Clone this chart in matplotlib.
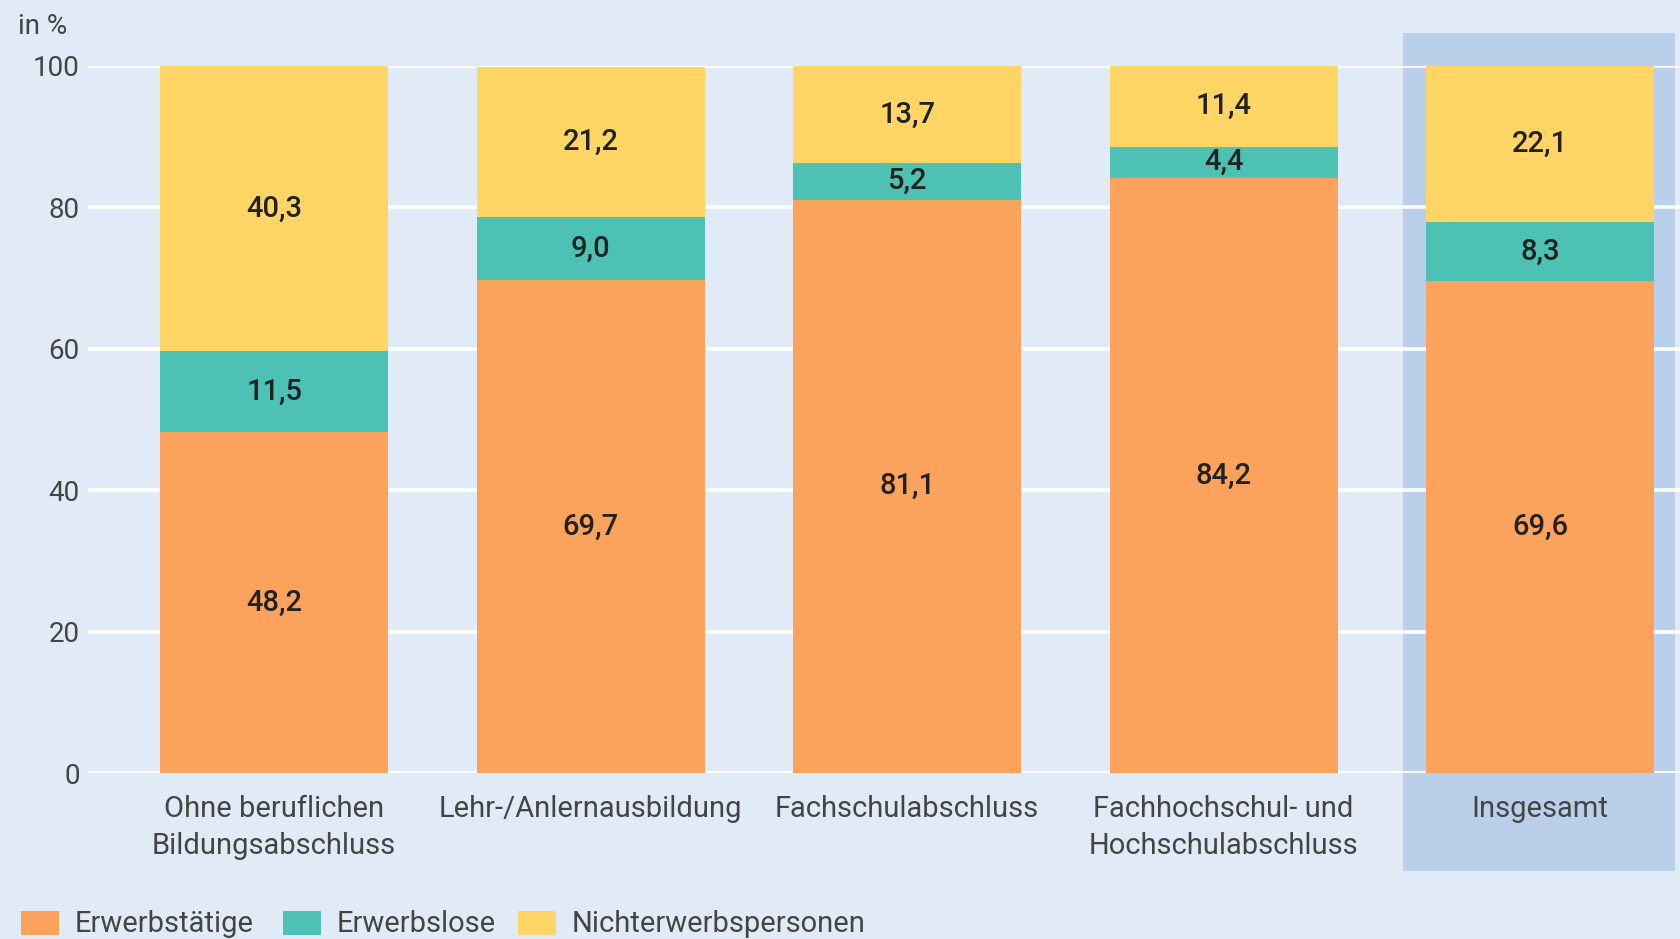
import matplotlib
matplotlib.use("Agg")
import matplotlib.pyplot as plt
from matplotlib import font_manager
from matplotlib.patches import Rectangle

categories = ["Ohne beruflichen\nBildungsabschluss", "Lehr-/Anlernausbildung",
              "Fachschulabschluss", "Fachhochschul- und\nHochschulabschluss", "Insgesamt"]
erwerbstaetige = [48.2, 69.7, 81.1, 84.2, 69.6]
erwerbslose = [11.5, 9.0, 5.2, 4.4, 8.3]
nichterwerbspersonen = [40.3, 21.2, 13.7, 11.4, 22.1]
series_names = ["Erwerbstätige", "Erwerbslose", "Nichterwerbspersonen"]
yticks = [0, 20, 40, 60, 80, 100]

colors = ["#FBA35D", "#4DC2B4", "#FFD666"]
bg = "#E1EBF7"
hl = "#BAD0EA"

avail = {f.name for f in font_manager.fontManager.ttflist}
fam = "Roboto" if "Roboto" in avail else "DejaVu Sans"
plt.rcParams["font.family"] = [fam, "DejaVu Sans"]

W, H = 1681, 939
fig = plt.figure(figsize=(W / 100, H / 100), dpi=100, facecolor=bg)
ax = fig.add_axes([88 / W, 1 - 773 / H, 1 - 88 / W, (773 - 66) / H])
ax.set_facecolor("none")
x = list(range(len(categories)))
ax.set_xlim(-0.588, 4.445)
ax.set_ylim(0, 100)

# highlight for total
ax.add_patch(Rectangle((3.567, -13.9), 0.86, 118.6, facecolor=hl, edgecolor="none",
                       zorder=0.5, clip_on=False))
for yv in yticks:
    ax.axhline(yv, color="white", lw=2.6, zorder=1)

bw = 0.72
bottoms = [0.0] * len(x)
for vals, col in zip([erwerbstaetige, erwerbslose, nichterwerbspersonen], colors):
    ax.bar(x, vals, bw, bottom=bottoms, color=col, zorder=2, linewidth=0)
    for xi, v, b in zip(x, vals, bottoms):
        ax.text(xi, b + v / 2, f"{v:.1f}".replace(".", ","), ha="center", va="center",
                fontsize=21, fontweight="medium", color="#222222", zorder=3)
    bottoms = [b + v for b, v in zip(bottoms, vals)]

for s in ax.spines.values():
    s.set_visible(False)
ax.set_yticks(yticks)
ax.set_yticklabels([str(t) for t in yticks], fontsize=20, color="#444444")
ax.tick_params(axis="y", length=0, pad=6)
ax.set_xticks(x)
ax.set_xticklabels(categories, fontsize=21, color="#444444", linespacing=1.42)
ax.tick_params(axis="x", length=0, pad=16)

fig.text(18 / W, 1 - 27 / H, "in %", fontsize=20, color="#444444", ha="left", va="center")

# legend
lx = [21, 283, 518]
for xx, name, col in zip(lx, series_names, colors):
    fig.patches.append(Rectangle((xx / W, 1 - 935 / H), 38 / W, 24 / H, facecolor=col,
                                 edgecolor="none", transform=fig.transFigure, figure=fig))
    fig.text((xx + 54) / W, 1 - 924 / H, name, fontsize=21, color="#444444",
             ha="left", va="center")

fig.savefig("out.png", dpi=100, facecolor=bg)
